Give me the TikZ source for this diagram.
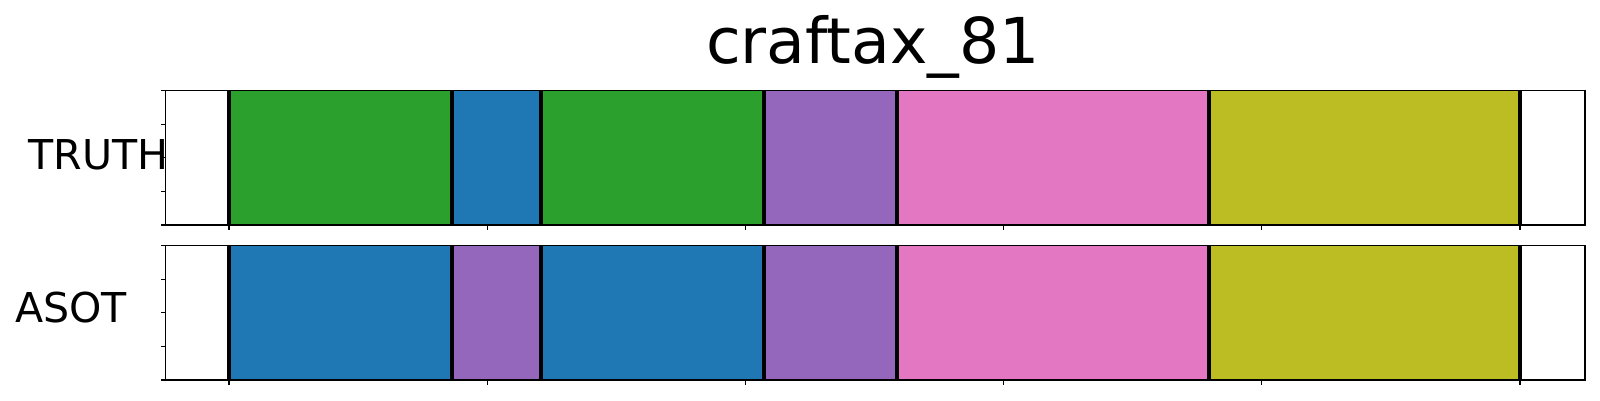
\documentclass[tikz,border=0pt]{standalone}
\usepackage{fontspec}
\setmainfont{DejaVu Sans}
\usepackage{tikz}

\definecolor{tabblue}{HTML}{1F77B4}
\definecolor{tabgreen}{HTML}{2CA02C}
\definecolor{tabpurple}{HTML}{9467BD}
\definecolor{tabpink}{HTML}{E377C2}
\definecolor{tabolive}{HTML}{BCBD22}

\begin{document}
\begin{tikzpicture}
          \useasboundingbox (0,0) rectangle (16,4);
          \def \xmin {1.655}
          \def \xmax {15.85}
          \def \rowh {1.343} % height of one row
          \def \tick {0.049}
          % truth row
          \foreach \a/\b/\c in {2.29/4.52/tabgreen, 4.52/5.41/tabblue, 5.41/7.64/tabgreen,
                                7.64/8.97/tabpurple, 8.97/12.09/tabpink, 12.09/15.20/tabolive}
          {
            \fill[\c] (\a,1.75) rectangle (\b,1.75+\rowh);
          }
          % asot row
          \foreach \a/\b/\c in {2.29/4.52/tabblue, 4.52/5.41/tabpurple, 5.41/7.64/tabblue,
                                7.64/8.97/tabpurple, 8.97/12.09/tabpink, 12.09/15.20/tabolive}
          {
            \fill[\c] (\a,0.20) rectangle (\b,0.20+\rowh);
          }
          \foreach \y in {1.75, 0.20}
          {
            \foreach \x in {2.29, 4.52, 5.41, 7.64, 8.97, 12.09, 15.20}
              \draw[line width=1.19pt] (\x,\y) -- (\x,\y+\rowh);
            \draw[line width=0.32pt] (\xmin,\y) rectangle (\xmax,\y+\rowh);
            \foreach \k in {0,...,5}
              \draw[line width=0.32pt] ({2.29+2.582*\k},\y) -- ++(0,-\tick);
            \foreach \k in {0,...,4}
              \draw[line width=0.32pt] (\xmin,{\y+\rowh/4*\k}) -- ++(-\tick,0);
          }
          \node[anchor=base, inner sep=0pt, font=\fontsize{18}{18}\selectfont] (title) at (8.73,3.37) {craftax\_81};
          \node[anchor=base west, inner sep=0pt, font=\fontsize{11.7}{12}\selectfont] (truth) at (0.28,2.307) {TRUTH};
          \node[anchor=base west, inner sep=0pt, font=\fontsize{11.7}{12}\selectfont] (asot) at (0.145,0.773) {ASOT};
        \end{tikzpicture}
\end{document}
